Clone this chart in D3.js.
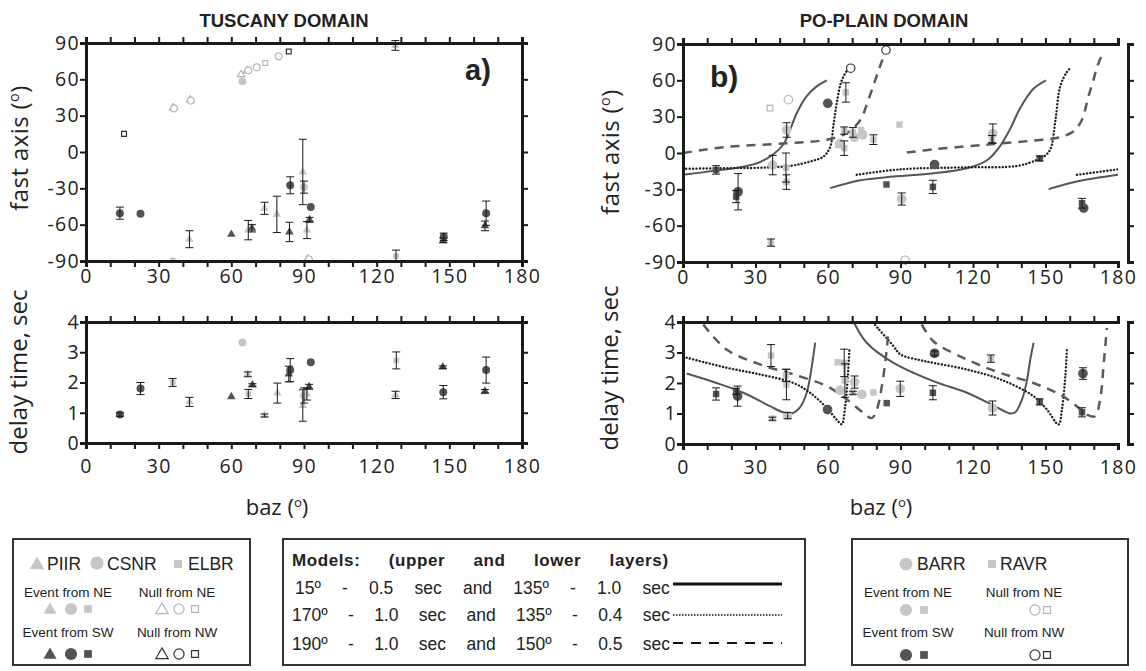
<!DOCTYPE html>
<html>
<head>
<meta charset="utf-8">
<script src="https://cdn.jsdelivr.net/npm/d3@7"></script>
<style>
  body { margin: 0; background: #fff; }
  svg text { font-family: "Open Sans", sans-serif; fill: #222; }
  .arial { font-family: "Liberation Sans", Arial, sans-serif; }
</style>
</head>
<body>
<svg id="chart" width="1146" height="671"></svg>
<script>
// ---- axis ticks / labels
var bazTicks = d3.range(0, 181, 10);
var bazLabels = [0, 30, 60, 90, 120, 150, 180];
var fastTicks = [-90, -60, -30, 0, 30, 60, 90];
var delayTicks = [0, 1, 2, 3, 4];

// ---- measurements: [baz, value, error, station, kind]
// kind: NE = event from NE, SW = event from SW, nullNE / nullNW = nulls
var tuscanyFast = [
  [14, -50.5, 5, "CSNR", "SW"], [22.5, -51, 0, "CSNR", "SW"],
  [15.7, 15, 0, "ELBR", "nullNW"],
  [36, 36.5, 0, "PIIR", "nullNE"], [36.3, 36, 0, "CSNR", "nullNE"],
  [43, 43, 0, "PIIR", "nullNE"], [43.3, 42.5, 0, "CSNR", "nullNE"],
  [64, 64, 0, "PIIR", "nullNE"], [64.6, 58.5, 0, "CSNR", "NE"],
  [66.5, 67, 0, "PIIR", "nullNE"], [67, 67.5, 0, "CSNR", "nullNE"],
  [70.5, 70, 0, "CSNR", "nullNE"], [74, 73.5, 0, "ELBR", "nullNE"],
  [79.5, 79, 0, "CSNR", "nullNE"], [83.7, 83, 0, "ELBR", "nullNW"],
  [35.8, -89.5, 0, "ELBR", "NE"], [42.7, -72, 7, "PIIR", "NE"],
  [60, -68, 0, "PIIR", "SW"], [67, -64.5, 8, "PIIR", "NE"],
  [68.5, -63, 3, "PIIR", "SW"], [73.7, -46.5, 5, "PIIR", "NE"],
  [78.8, -51.5, 15, "PIIR", "NE"], [84.3, -27.5, 7, "CSNR", "SW"],
  [84, -66, 8, "PIIR", "SW"], [89.5, -16.5, 27, "PIIR", "NE"],
  [90, -29, 5, "CSNR", "NE"], [92.8, -45.5, 0, "CSNR", "SW"],
  [92.3, -56, 2, "PIIR", "SW"], [91.2, -64.5, 7, "PIIR", "NE"],
  [91.5, -88.5, 0, "PIIR", "nullNE"], [92, -88.5, 0, "CSNR", "nullNE"],
  [127.7, 88, 4, "PIIR", "NE"], [128, -86, 5, "ELBR", "NE"],
  [147.7, -70, 3, "CSNR", "SW"], [147.5, -73, 2, "PIIR", "SW"],
  [165.2, -50.5, 10, "CSNR", "SW"], [164.7, -61, 4, "PIIR", "SW"]
];

var tuscanyDelay = [
  [14, 0.94, 0.06, "CSNR", "SW"], [22.5, 1.8, 0.2, "CSNR", "SW"],
  [35.8, 2.0, 0.13, "ELBR", "NE"], [42.7, 1.36, 0.15, "PIIR", "NE"],
  [64.6, 3.32, 0, "CSNR", "NE"], [60, 1.53, 0, "PIIR", "SW"],
  [66.8, 2.27, 0.08, "PIIR", "NE"], [67, 1.62, 0.15, "ELBR", "NE"],
  [68.7, 1.92, 0.04, "PIIR", "SW"], [73.7, 0.91, 0.05, "PIIR", "NE"],
  [79, 1.65, 0.33, "PIIR", "NE"], [84.3, 2.41, 0.38, "CSNR", "SW"],
  [83.7, 2.28, 0.26, "PIIR", "SW"], [89.5, 1.24, 0.52, "PIIR", "NE"],
  [90, 1.57, 0.25, "CSNR", "NE"], [91.2, 1.62, 0.2, "PIIR", "NE"],
  [92.1, 1.86, 0.08, "PIIR", "SW"], [92.8, 2.67, 0, "CSNR", "SW"],
  [128.1, 2.73, 0.28, "ELBR", "NE"], [127.8, 1.59, 0.12, "PIIR", "NE"],
  [147.3, 2.51, 0.04, "PIIR", "SW"], [147.5, 1.68, 0.22, "CSNR", "SW"],
  [165.2, 2.41, 0.43, "CSNR", "SW"], [164.7, 1.71, 0.06, "PIIR", "SW"]
];

var poFast = [
  [13.7, -14, 3.5, "RAVR", "SW"], [22, -36, 5, "RAVR", "SW"],
  [22.8, -32, 15, "BARR", "SW"], [36, 37, 0, "RAVR", "nullNE"],
  [43.6, 44, 0, "BARR", "nullNE"], [36.4, -74, 3, "RAVR", "NE"],
  [37.1, -10, 8, "BARR", "NE"], [42.9, 19, 6, "BARR", "NE"],
  [42.6, -12, 12, "RAVR", "NE"], [42.8, -24, 6, "RAVR", "NE"],
  [59.9, 41, 0, "BARR", "SW"], [67.4, 50, 8, "RAVR", "NE"],
  [69.4, 70, 0, "BARR", "nullNW"], [84, 85, 0, "BARR", "nullNW"],
  [66.7, 18.5, 3, "RAVR", "NE"], [64.3, 6.5, 0, "RAVR", "NE"],
  [65, 8, 0, "BARR", "NE"], [66.7, 4, 6, "RAVR", "NE"],
  [70.3, 17, 4, "RAVR", "NE"], [71, 13, 0, "BARR", "NE"],
  [73.7, 19, 0, "RAVR", "NE"], [74.4, 15, 0, "BARR", "NE"],
  [78.8, 11, 4, "RAVR", "NE"], [84.2, -26, 0, "RAVR", "SW"],
  [89.6, 23.5, 0, "RAVR", "NE"], [90.5, -38, 5, "BARR", "NE"],
  [91.9, -88.5, 0, "BARR", "nullNE"], [104.1, -9.5, 0, "BARR", "SW"],
  [103.4, -28, 5.5, "RAVR", "SW"], [128.2, 16, 8, "BARR", "NE"],
  [127.8, 11.5, 3, "RAVR", "NE"], [147.6, -4.5, 2, "RAVR", "SW"],
  [165.1, -41.5, 4, "RAVR", "SW"], [165.8, -45.5, 0, "BARR", "SW"]
];

var poDelay = [
  [13.7, 1.64, 0.2, "RAVR", "SW"], [22, 1.73, 0.1, "RAVR", "SW"],
  [22.6, 1.57, 0.33, "BARR", "SW"], [36.4, 2.9, 0.36, "RAVR", "NE"],
  [37, 0.83, 0.05, "RAVR", "NE"], [42.6, 2.25, 0.2, "RAVR", "NE"],
  [42.8, 1.95, 0.5, "RAVR", "NE"], [43.3, 0.93, 0.1, "BARR", "NE"],
  [59.8, 1.13, 0, "BARR", "SW"], [64, 2.68, 0, "RAVR", "NE"],
  [65, 1.76, 0, "BARR", "NE"], [66.7, 2.66, 0.45, "RAVR", "NE"],
  [67, 2.08, 0.55, "RAVR", "NE"], [70.3, 1.68, 0.05, "RAVR", "NE"],
  [71, 2.03, 0.2, "BARR", "NE"], [74, 1.63, 0, "BARR", "NE"],
  [78.8, 1.69, 0, "RAVR", "NE"], [84.3, 1.34, 0, "RAVR", "SW"],
  [89.9, 1.81, 0.25, "BARR", "NE"], [104.1, 2.97, 0.08, "BARR", "SW"],
  [103.4, 1.68, 0.23, "RAVR", "SW"], [127.4, 2.8, 0.12, "RAVR", "NE"],
  [128.1, 1.18, 0.23, "BARR", "NE"], [147.6, 1.38, 0.1, "RAVR", "SW"],
  [165.5, 2.31, 0.19, "BARR", "SW"], [165.1, 1.04, 0.15, "RAVR", "SW"]
];

// ---- two-layer model curves (branches)
var model1Fast = [
  [[0, -18], [13.7, -14.5], [25, -11.3], [31.9, -7.5], [37.4, -1], [41.5, 7], [44.3, 19], [47.1, 33], [51.2, 47], [55.3, 55], [59.5, 60]],
  [[60.9, -29], [73.3, -22.5], [87.1, -19.5], [103.6, -16.8], [117.5, -12.6], [125.8, -6], [131.3, 6], [135.4, 20], [139.5, 37], [145, 53], [150.2, 60]],
  [[151.3, -29.8], [163, -23.5], [180, -18]]
];
var model2Fast = [
  [[0, -13], [20, -12.5], [35, -12], [45, -10.5], [52.6, -7], [58.1, -3], [60.9, 5], [62.2, 22], [63.6, 41], [65.7, 60], [68.5, 69.5], [69.4, 70.3]],
  [[71.9, -18], [89.9, -13.5], [117.5, -11.8], [138.2, -10.7], [146.5, -5.7], [149.3, -3], [152, 3], [154.1, 27], [156.1, 55], [158.9, 67], [160.7, 71]],
  [[163, -18], [180, -13.5]]
];
var model3Fast = [
  [[0, 0], [18, 5], [43, 8], [59.5, 11], [67.8, 16.5], [73.3, 27], [76.7, 44], [79.5, 60], [81.6, 72], [84, 85]],
  [[92.6, 0.4], [103.6, 3], [124.3, 6.7], [145, 10.3], [156, 13], [161.6, 18], [165, 27], [167.8, 47], [169.8, 60], [171.5, 72], [174, 84]]
];
var model1Delay = [
  [[1.5, 2.31], [13.9, 2.0], [25, 1.68], [36, 1.24], [41.5, 1.04], [45, 1.0], [48.4, 1.2], [51.2, 1.68], [53.3, 2.55], [54.7, 3.32]],
  [[70, 4.1], [76, 3.32], [87.1, 2.66], [103.6, 2.06], [117.5, 1.68], [128.5, 1.26], [135.4, 1.0], [137.5, 1.04], [140.3, 1.46], [142.4, 2.12], [143.7, 2.77], [145.1, 3.32]]
];
var model2Delay = [
  [[1.5, 2.83], [18.1, 2.5], [31.9, 2.28], [45.7, 2.0], [52.6, 1.68], [59.5, 1.18], [63.6, 0.8], [65.7, 0.65], [67.1, 1.24], [68, 2.0], [68.9, 3.16]],
  [[79.5, 3.9], [87.1, 3.21], [89.9, 2.94], [98.1, 2.75], [103.6, 2.66], [117.5, 2.44], [131.3, 2.12], [145, 1.57], [150.6, 1.13], [155.4, 0.64], [156.8, 1.13], [158.2, 2.22], [158.9, 3.16]]
];
var model3Delay = [
  [[8.4, 3.92], [18, 3.1], [31.9, 2.61], [45.7, 2.28], [59.5, 1.9], [67.8, 1.46], [74.7, 1.02], [78.1, 0.85], [80.2, 1.13], [82.3, 1.9], [84.3, 3.1], [85, 3.76]],
  [[98.8, 3.92], [103.6, 3.37], [117.5, 2.77], [131.3, 2.33], [145, 2.0], [156, 1.62], [162.9, 1.24], [167.1, 0.96], [170.5, 0.91], [172.6, 1.46], [174, 2.55], [175.4, 3.81]]
];

// ---- legend texts
var tuscanyStations = ["PIIR", "CSNR", "ELBR"];
var poStations = ["BARR", "RAVR"];
var eventLabels = ["Event from NE", "Null from NE", "Event from SW", "Null from NW"];
var modelHeader = "Models: (upper and lower layers)";
var modelRows = ["15º - 0.5 sec and 135º - 1.0 sec", "170º - 1.0 sec and 135º - 0.4 sec", "190º - 1.0 sec and 150º - 0.5 sec"];

var LIGHT = "#c6c6c6", DARK = "#545454", INK = "#1a1a1a";

var svg = d3.select("#chart");

var shapeOf = { PIIR: d3.symbolTriangle, CSNR: d3.symbolCircle, ELBR: d3.symbolSquare,
                BARR: d3.symbolCircle, RAVR: d3.symbolSquare };

function drawMarker(g, cx, cy, station, kind, sizes) {
  var shape = shapeOf[station];
  var open = kind.indexOf("null") === 0;
  var size = shape === d3.symbolTriangle ? sizes.tri : shape === d3.symbolCircle ? sizes.cir : sizes.sq;
  if (open) size *= 0.75;
  var p = g.append("path")
    .attr("d", d3.symbol().type(shape).size(size)())
    .attr("transform", "translate(" + cx + "," + cy + ")");
  if (open) {
    p.attr("fill", "#fff").attr("stroke", kind === "nullNE" ? "#b4b4b4" : "#333").attr("stroke-width", 1.2);
  } else {
    p.attr("fill", kind === "NE" ? LIGHT : DARK);
  }
}

var curveStyles = [
  { stroke: "#555", width: 2, dash: null, cap: "butt" },
  { stroke: "#222", width: 2.4, dash: "0.1 3.3", cap: "round" },
  { stroke: "#5a5a5a", width: 2.5, dash: "9 7", cap: "butt" }
];

function drawPanel(c) {
  var g = svg.append("g");
  var x = d3.scaleLinear().domain([0, 180]).range([c.x0, c.x1]);
  var y = d3.scaleLinear().domain(c.dom).range([c.yb, c.yt]);

  if (c.curves) {
    svg.append("clipPath").attr("id", "clip-" + c.name).append("rect")
      .attr("x", c.x0).attr("y", c.yt).attr("width", c.x1 - c.x0).attr("height", c.yb - c.yt);
    var line = d3.line().x(function(d) { return x(d[0]); }).y(function(d) { return y(d[1]); })
      .curve(d3.curveCatmullRom.alpha(0.5));
    var cg = g.append("g").attr("clip-path", "url(#clip-" + c.name + ")");
    c.curves.forEach(function(branches, i) {
      var st = curveStyles[i];
      branches.forEach(function(b) {
        cg.append("path").attr("d", line(b)).attr("fill", "none")
          .attr("stroke", st.stroke).attr("stroke-width", st.width)
          .attr("stroke-dasharray", st.dash).attr("stroke-linecap", st.cap);
      });
    });
  }

  // markers
  var mg = g.append("g");
  c.points.forEach(function(d) {
    drawMarker(mg, x(d[0]), y(d[1]), d[3], d[4], c.sizes);
  });

  // error bars
  var eg = g.append("g").attr("stroke", INK).attr("stroke-width", 1).attr("fill", "none");
  c.points.filter(function(d) { return d[2] > 0; }).forEach(function(d) {
    var px = x(d[0]), lo = y(d[1] - d[2]), hi = y(d[1] + d[2]);
    eg.append("path").attr("d",
      "M" + px + "," + lo + "V" + hi +
      "M" + (px - 4) + "," + lo + "H" + (px + 4) +
      "M" + (px - 4) + "," + hi + "H" + (px + 4));
  });

  function styleAxis(a) {
    a.attr("font-family", '"Open Sans", sans-serif').attr("font-size", 19.5);
    a.select(".domain").attr("stroke", INK).attr("stroke-width", 3);
    a.selectAll(".tick line").attr("stroke", INK).attr("stroke-width", 2);
    a.selectAll(".tick text").attr("fill", "#222").attr("letter-spacing", 1.3);
  }

  styleAxis(g.append("g").attr("transform", "translate(0," + c.yb + ")")
    .call(d3.axisBottom(x).tickValues(bazTicks).tickSize(6).tickPadding(c.pad)
      .tickFormat(function(d) { return bazLabels.indexOf(d) >= 0 ? String(d) : ""; })));
  styleAxis(g.append("g").attr("transform", "translate(0," + c.yt + ")")
    .call(d3.axisTop(x).tickValues(bazTicks).tickSize(6).tickFormat("")));
  styleAxis(g.append("g").attr("transform", "translate(" + c.x0 + ",0)")
    .call(d3.axisLeft(y).tickValues(c.ticks).tickSize(6).tickPadding(0)
      .tickFormat(function(d) { return String(d); })));
  styleAxis(g.append("g").attr("transform", "translate(" + (c.x1 + c.rightGap) + ",0)")
    .call(d3.axisRight(y).tickValues(c.ticks).tickSize(6).tickFormat("")));
}

var smallSizes = { tri: 32, cir: 50, sq: 32 };
var bigSizes = { tri: 40, cir: 74, sq: 42 };

drawPanel({ name: "tl", x0: 86, x1: 522, yt: 43, yb: 261, dom: [-90, 90], ticks: fastTicks,
  points: tuscanyFast, sizes: smallSizes, pad: 2, rightGap: 0 });
drawPanel({ name: "bl", x0: 86, x1: 522, yt: 322, yb: 443, dom: [0, 4], ticks: delayTicks,
  points: tuscanyDelay, sizes: smallSizes, pad: 10, rightGap: 0 });
drawPanel({ name: "tr", x0: 683, x1: 1118, yt: 44, yb: 262, dom: [-90, 90], ticks: fastTicks,
  points: poFast, sizes: bigSizes, pad: 2, rightGap: 10,
  curves: [model1Fast, model2Fast, model3Fast] });
drawPanel({ name: "br", x0: 683, x1: 1118, yt: 322, yb: 444, dom: [0, 4], ticks: delayTicks,
  points: poDelay, sizes: bigSizes, pad: 10, rightGap: 10,
  curves: [model1Delay, model2Delay, model3Delay] });

// ---- titles and axis labels
svg.append("text").attr("class", "arial").attr("x", 284).attr("y", 27).attr("text-anchor", "middle")
  .attr("font-weight", "bold").attr("font-size", 18.5).text("TUSCANY DOMAIN");
svg.append("text").attr("class", "arial").attr("x", 884).attr("y", 27).attr("text-anchor", "middle")
  .attr("font-weight", "bold").attr("font-size", 18.5).text("PO-PLAIN DOMAIN");
svg.append("text").attr("class", "arial").attr("x", 465).attr("y", 80)
  .attr("font-weight", "bold").attr("font-size", 29).text("a)");
svg.append("text").attr("class", "arial").attr("x", 710).attr("y", 87)
  .attr("font-weight", "bold").attr("font-size", 30).text("b)");

function degText(t, base, fs) {
  t.append("tspan").text(base + " (");
  t.append("tspan").attr("font-size", fs * 0.6).attr("dy", -fs * 0.38).text("o");
  t.append("tspan").attr("dy", fs * 0.38).text(")");
}

[[28, 148], [619, 152]].forEach(function(p) {
  var t = svg.append("text").attr("text-anchor", "middle").attr("font-size", 24)
    .attr("letter-spacing", 0.4)
    .attr("transform", "translate(" + p[0] + "," + p[1] + ") rotate(-90)");
  degText(t, "fast axis", 24);
});
[[27, 372], [618, 368]].forEach(function(p) {
  svg.append("text").attr("text-anchor", "middle").attr("font-size", 24)
    .attr("transform", "translate(" + p[0] + "," + p[1] + ") rotate(-90)")
    .text("delay time, sec");
});
[277, 881].forEach(function(cx) {
  var t = svg.append("text").attr("x", cx).attr("y", 515).attr("text-anchor", "middle").attr("font-size", 22);
  degText(t, "baz", 22);
});

// ---- legends
function box(x, y, w, h) {
  svg.append("rect").attr("x", x).attr("y", y).attr("width", w).attr("height", h)
    .attr("fill", "none").attr("stroke", "#333").attr("stroke-width", 2);
}
function sym(cx, cy, shape, size, fill, stroke) {
  var p = svg.append("path").attr("d", d3.symbol().type(shape).size(size)())
    .attr("transform", "translate(" + cx + "," + cy + ")");
  if (stroke) p.attr("fill", "#fff").attr("stroke", stroke).attr("stroke-width", 1.2);
  else p.attr("fill", fill);
}
function ltext(x, y, s, fs, anchor) {
  return svg.append("text").attr("class", "arial").attr("x", x).attr("y", y)
    .attr("font-size", fs).attr("text-anchor", anchor || "start").text(s);
}

// Tuscany legend
box(13, 539, 237, 126);
sym(37, 565, d3.symbolTriangle, 95, LIGHT);
ltext(47, 570, tuscanyStations[0], 17.5);
sym(97, 563, d3.symbolCircle, 135, LIGHT);
ltext(107, 570, tuscanyStations[1], 17.5);
sym(178, 564, d3.symbolSquare, 64, LIGHT);
ltext(188, 570, tuscanyStations[2], 17.5);
ltext(68, 597, eventLabels[0], 13.5, "middle");
ltext(177, 597, eventLabels[1], 13.5, "middle");
ltext(68, 637, eventLabels[2], 13.5, "middle");
ltext(177, 637, eventLabels[3], 13.5, "middle");
[[609, LIGHT, "#b4b4b4"], [654, DARK, "#333"]].forEach(function(r) {
  sym(50, r[0] + 1, d3.symbolTriangle, 75, r[1]);
  sym(71, r[0], d3.symbolCircle, 115, r[1]);
  sym(88, r[0], d3.symbolSquare, 60, r[1]);
  sym(162, r[0] + 1, d3.symbolTriangle, 66, null, r[2]);
  sym(179, r[0], d3.symbolCircle, 80, null, r[2]);
  sym(195, r[0], d3.symbolSquare, 48, null, r[2]);
});

// Models legend
box(283, 539, 522, 126);
ltext(292, 566, modelHeader, 17).attr("font-weight", "bold").attr("word-spacing", 23).attr("letter-spacing", 0.6);
[[295, 594, 16.3], [292, 621, 15.5], [292, 650, 15.5]].forEach(function(p, i) {
  ltext(p[0], p[1], modelRows[i], 17.5).attr("word-spacing", p[2]);
});
svg.append("line").attr("x1", 673).attr("x2", 782).attr("y1", 584).attr("y2", 584)
  .attr("stroke", "#111").attr("stroke-width", 3);
svg.append("line").attr("x1", 673).attr("x2", 782).attr("y1", 615).attr("y2", 615)
  .attr("stroke", "#111").attr("stroke-width", 1.6).attr("stroke-dasharray", "1.5 1.5");
svg.append("line").attr("x1", 673).attr("x2", 782).attr("y1", 643).attr("y2", 643)
  .attr("stroke", "#111").attr("stroke-width", 2).attr("stroke-dasharray", "10 8");

// Po-plain legend
box(852, 539, 276, 126);
sym(906, 564, d3.symbolCircle, 125, LIGHT);
ltext(917, 570, poStations[0], 17.5);
sym(992, 564, d3.symbolSquare, 64, LIGHT);
ltext(1000, 570, poStations[1], 17.5);
ltext(908, 597, eventLabels[0], 13.5, "middle");
ltext(1024, 597, eventLabels[1], 13.5, "middle");
ltext(908, 637, eventLabels[2], 13.5, "middle");
ltext(1024, 637, eventLabels[3], 13.5, "middle");
[[610, LIGHT, "#b4b4b4"], [655, DARK, "#333"]].forEach(function(r) {
  sym(906, r[0], d3.symbolCircle, 115, r[1]);
  sym(924, r[0], d3.symbolSquare, 60, r[1]);
  sym(1035, r[0], d3.symbolCircle, 80, null, r[2]);
  sym(1047, r[0], d3.symbolSquare, 48, null, r[2]);
});
</script>
</body>
</html>
